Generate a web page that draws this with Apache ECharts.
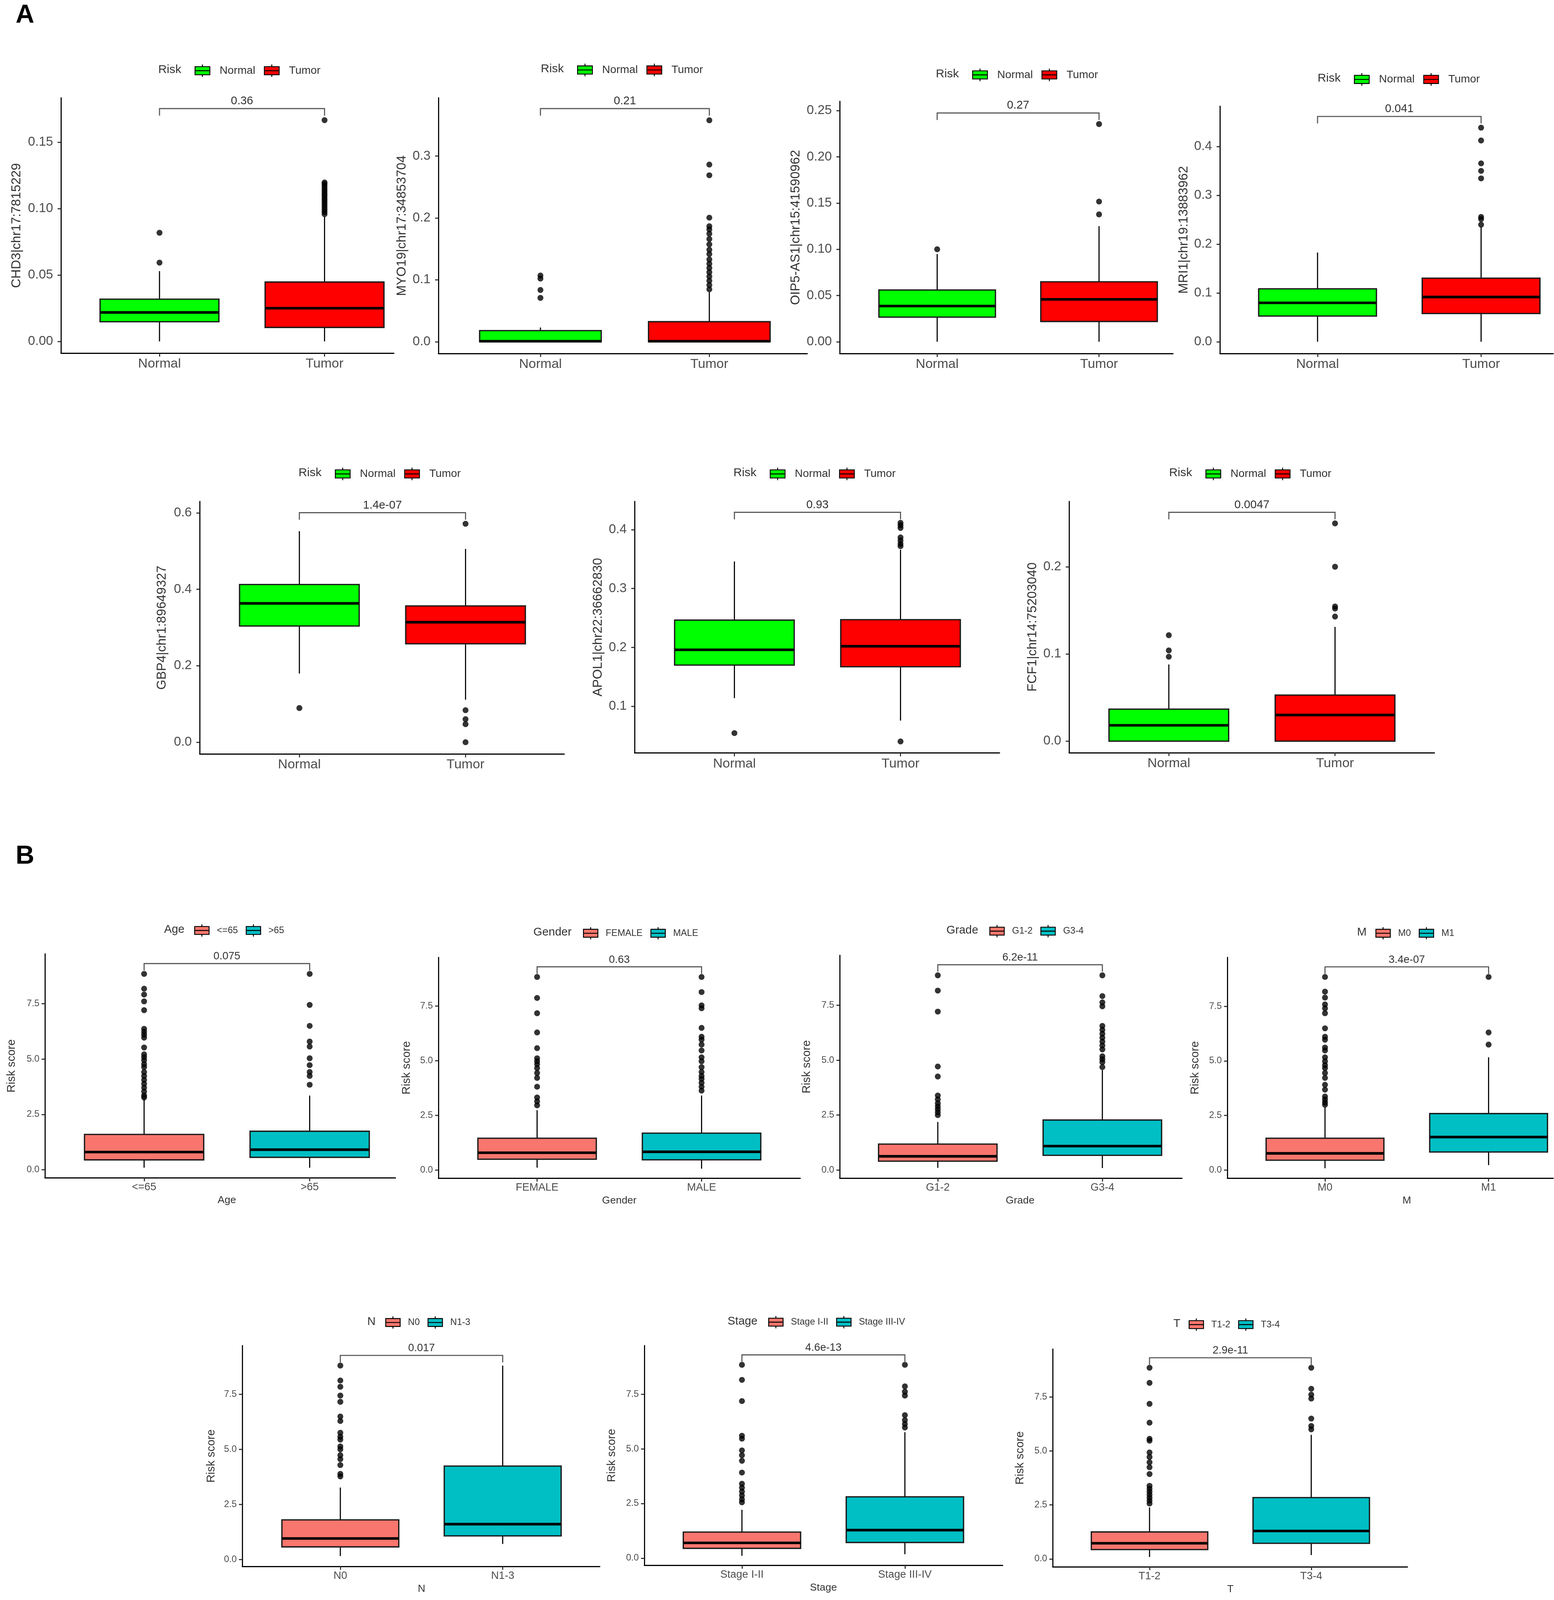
<!DOCTYPE html>
<html><head><meta charset="utf-8">
<script src="https://cdn.jsdelivr.net/npm/echarts@6/dist/echarts.min.js"></script>
<style>html,body{margin:0;padding:0;background:#fff;overflow:hidden}#chart{width:3977px;height:4579px}</style>
</head><body><div id="chart"></div>
<script>
const FONT = '"Liberation Sans", Arial, Helvetica, sans-serif';

// ---------------- Panel A data ----------------
const riskGroups = ['Normal', 'Tumor'];

const chd3Stats = [[0, 0.0148, 0.0218, 0.0318, 0.0529], [0, 0.0105, 0.0250, 0.0447, 0.0940]];
const chd3OutNormal = [0.0593, 0.0818];
const chd3OutTumor = [0.0958, 0.0975, 0.0992, 0.1010, 0.1028, 0.1045, 0.1063, 0.1080, 0.1098, 0.1115, 0.1133, 0.1150, 0.1168, 0.1185, 0.1197, 0.1666];
const chd3Ticks = [0, 0.05, 0.10, 0.15];
const chd3TickLabels = ['0.00', '0.05', '0.10', '0.15'];
const chd3P = '0.36', chd3PY = 0.1753;

const myo19Stats = [[0, 0, 0.0008, 0.018, 0.023], [0, 0, 0.0008, 0.0324, 0.080]];
const myo19OutNormal = [0.0708, 0.0836, 0.1020, 0.1070];
const myo19OutTumor = [0.0846, 0.0915, 0.0985, 0.1054, 0.1123, 0.1192, 0.1261, 0.1330, 0.1417, 0.1486, 0.1573, 0.1659, 0.1745, 0.1814, 0.1866, 0.2004, 0.2689, 0.2862, 0.3578];
const myo19Ticks = [0, 0.1, 0.2, 0.3];
const myo19TickLabels = ['0.0', '0.1', '0.2', '0.3'];
const myo19P = '0.21', myo19PY = 0.3766;

const oip5Stats = [[0, 0.0266, 0.0386, 0.0560, 0.0949], [0, 0.0219, 0.0458, 0.0648, 0.1250]];
const oip5OutNormal = [0.1000];
const oip5OutTumor = [0.1377, 0.1516, 0.2354];
const oip5Ticks = [0, 0.05, 0.10, 0.15, 0.20, 0.25];
const oip5TickLabels = ['0.00', '0.05', '0.10', '0.15', '0.20', '0.25'];
const oip5P = '0.27', oip5PY = 0.2474;

const mri1Stats = [[0, 0.0526, 0.0797, 0.1083, 0.1828], [0, 0.0578, 0.0916, 0.1302, 0.2350]];
const mri1OutNormal = [];
const mri1OutTumor = [0.2399, 0.2513, 0.2557, 0.3346, 0.3500, 0.3654, 0.4123, 0.4386];
const mri1Ticks = [0, 0.1, 0.2, 0.3, 0.4];
const mri1TickLabels = ['0.0', '0.1', '0.2', '0.3', '0.4'];
const mri1P = '0.041', mri1PY = 0.4615;

const gbp4Stats = [[0.1797, 0.304, 0.3633, 0.4125, 0.5523], [0.1112, 0.2575, 0.3139, 0.3567, 0.5057]];
const gbp4OutNormal = [0.0893];
const gbp4OutTumor = [0.0000, 0.0471, 0.0602, 0.0838, 0.5715];
const gbp4Ticks = [0, 0.2, 0.4, 0.6];
const gbp4TickLabels = ['0.0', '0.2', '0.4', '0.6'];
const gbp4P = '1.4e-07', gbp4PY = 0.6005;

const apol1Stats = [[0.1139, 0.170, 0.196, 0.2464, 0.346], [0.0758, 0.1672, 0.202, 0.2472, 0.366]];
const apol1OutNormal = [0.0545];
const apol1OutTumor = [0.0403, 0.3720, 0.3761, 0.3815, 0.3868, 0.4029, 0.4075, 0.4117];
const apol1Ticks = [0.1, 0.2, 0.3, 0.4];
const apol1TickLabels = ['0.1', '0.2', '0.3', '0.4'];
const apol1P = '0.93', apol1PY = 0.4295;

const fcf1Stats = [[0, 0, 0.0182, 0.0367, 0.0879], [0, 0, 0.0300, 0.0528, 0.1310]];
const fcf1OutNormal = [0.0968, 0.1040, 0.1215];
const fcf1OutTumor = [0.1429, 0.1520, 0.1544, 0.2000, 0.2497];
const fcf1Ticks = [0, 0.1, 0.2];
const fcf1TickLabels = ['0.0', '0.1', '0.2'];
const fcf1P = '0.0047', fcf1PY = 0.2624;

// ---------------- Panel B data ----------------
const riskTicks = [0, 2.5, 5, 7.5];
const riskTickLabels = ['0.0', '2.5', '5.0', '7.5'];

const ageGroups = ['<=65', '>65'];
const ageStats = [[0.09, 0.444, 0.798, 1.595, 3.20], [0.09, 0.559, 0.905, 1.737, 3.35]];
const ageOutLow = [3.262, 3.35, 3.528, 3.706, 3.883, 4.06, 4.238, 4.415, 4.636, 4.769, 4.947, 5.08, 5.212, 5.522, 5.966, 6.099, 6.231, 6.364, 7.207, 7.605, 7.915, 8.18, 8.847];
const ageOutHigh = [3.838, 4.238, 4.415, 4.724, 5.035, 5.566, 5.789, 6.498, 7.446, 8.847];
const ageP = '0.075', agePY = 9.314;

const genderGroups = ['FEMALE', 'MALE'];
const genderStats = [[0.109, 0.493, 0.789, 1.451, 2.733], [0.06, 0.466, 0.833, 1.684, 3.404]];
const genderOutF = [2.957, 3.136, 3.315, 3.808, 4.212, 4.435, 4.659, 4.838, 4.972, 5.108, 5.572, 6.29, 7.168, 7.867, 8.826];
const genderOutM = [3.629, 3.808, 3.987, 4.166, 4.301, 4.48, 4.704, 4.972, 5.152, 5.465, 5.734, 5.959, 6.093, 6.497, 7.393, 7.527, 8.135, 8.826];
const genderP = '0.63', genderPY = 9.291;

const gradeGroups = ['G1-2', 'G3-4'];
const gradeStats = [[0.1, 0.403, 0.625, 1.179, 2.188], [0.09, 0.67, 1.09, 2.277, 4.554]];
const gradeOutLow = [2.5, 2.633, 2.768, 2.902, 3.036, 3.214, 3.392, 4.259, 4.714, 7.214, 8.17, 8.866];
const gradeOutHigh = [4.687, 4.91, 5.045, 5.179, 5.491, 5.669, 5.849, 6.027, 6.205, 6.384, 6.563, 7.456, 7.634, 7.92, 8.866];
const gradeP = '6.2e-11', gradePY = 9.348;

const mGroups = ['M0', 'M1'];
const mStats = [[0.08, 0.45, 0.763, 1.455, 2.88], [0.224, 0.826, 1.509, 2.586, 5.165]];
const mOut0 = [2.99, 3.099, 3.233, 3.367, 3.683, 3.907, 4.222, 4.446, 4.67, 4.805, 4.984, 5.165, 5.479, 5.613, 5.973, 6.108, 6.493, 7.185, 7.41, 7.59, 7.903, 8.174, 8.848];
const mOut1 = [5.748, 6.304, 8.848];
const mP = '3.4e-07', mPY = 9.313;

const nGroups = ['N0', 'N1-3'];
const nStats = [[0.152, 0.569, 0.951, 1.796, 3.262], [0.702, 1.067, 1.6, 4.239, 8.798]];
const nOut0 = [3.768, 3.884, 4.283, 4.55, 4.729, 4.995, 5.128, 5.439, 5.572, 5.75, 6.283, 6.487, 7.154, 7.438, 7.838, 8.123, 8.798];
const nOut1 = [];
const nP = '0.017', nPY = 9.26;

const stageGroups = ['Stage I-II', 'Stage III-IV'];
const stageStats = [[0.107, 0.448, 0.699, 1.191, 2.213], [0.179, 0.716, 1.281, 2.804, 5.762]];
const stageOutLow = [2.553, 2.688, 2.866, 3.046, 3.226, 3.405, 3.915, 4.454, 4.705, 4.929, 5.466, 5.6, 7.186, 8.155, 8.844];
const stageOutHigh = [5.976, 6.138, 6.318, 6.542, 7.437, 7.616, 7.859, 8.844];
const stageP = '4.6e-13', stagePY = 9.30;

const tGroups = ['T1-2', 'T3-4'];
const tStats = [[0.091, 0.436, 0.726, 1.252, 2.388], [0.181, 0.726, 1.298, 2.841, 5.748]];
const tOutLow = [2.569, 2.705, 2.841, 2.978, 3.115, 3.251, 3.387, 3.932, 4.249, 4.476, 4.722, 4.931, 5.475, 5.566, 6.311, 7.183, 8.155, 8.853];
const tOutHigh = [6.002, 6.156, 6.501, 7.428, 7.609, 7.881, 8.853];
const tP = '2.9e-11', tPY = 9.316;

// ---------------- Panel table built from the arrays ----------------
const panels = [
  {sec:'A', yName:'CHD3|chr17:7815229', legendTitle:'Risk', groups:riskGroups, stats:chd3Stats, out:[chd3OutNormal, chd3OutTumor], ticks:chd3Ticks, tickLabels:chd3TickLabels, p:chd3P, pY:chd3PY},
  {sec:'A', yName:'MYO19|chr17:34853704', legendTitle:'Risk', groups:riskGroups, stats:myo19Stats, out:[myo19OutNormal, myo19OutTumor], ticks:myo19Ticks, tickLabels:myo19TickLabels, p:myo19P, pY:myo19PY},
  {sec:'A', yName:'OIP5-AS1|chr15:41590962', legendTitle:'Risk', groups:riskGroups, stats:oip5Stats, out:[oip5OutNormal, oip5OutTumor], ticks:oip5Ticks, tickLabels:oip5TickLabels, p:oip5P, pY:oip5PY},
  {sec:'A', yName:'MRI1|chr19:13883962', legendTitle:'Risk', groups:riskGroups, stats:mri1Stats, out:[mri1OutNormal, mri1OutTumor], ticks:mri1Ticks, tickLabels:mri1TickLabels, p:mri1P, pY:mri1PY},
  {sec:'A', yName:'GBP4|chr1:89649327', legendTitle:'Risk', groups:riskGroups, stats:gbp4Stats, out:[gbp4OutNormal, gbp4OutTumor], ticks:gbp4Ticks, tickLabels:gbp4TickLabels, p:gbp4P, pY:gbp4PY},
  {sec:'A', yName:'APOL1|chr22:36662830', legendTitle:'Risk', groups:riskGroups, stats:apol1Stats, out:[apol1OutNormal, apol1OutTumor], ticks:apol1Ticks, tickLabels:apol1TickLabels, p:apol1P, pY:apol1PY},
  {sec:'A', yName:'FCF1|chr14:75203040', legendTitle:'Risk', groups:riskGroups, stats:fcf1Stats, out:[fcf1OutNormal, fcf1OutTumor], ticks:fcf1Ticks, tickLabels:fcf1TickLabels, p:fcf1P, pY:fcf1PY},
  {sec:'B', yName:'Risk score', legendTitle:'Age', groups:ageGroups, stats:ageStats, out:[ageOutLow, ageOutHigh], ticks:riskTicks, tickLabels:riskTickLabels, p:ageP, pY:agePY},
  {sec:'B', yName:'Risk score', legendTitle:'Gender', groups:genderGroups, stats:genderStats, out:[genderOutF, genderOutM], ticks:riskTicks, tickLabels:riskTickLabels, p:genderP, pY:genderPY},
  {sec:'B', yName:'Risk score', legendTitle:'Grade', groups:gradeGroups, stats:gradeStats, out:[gradeOutLow, gradeOutHigh], ticks:riskTicks, tickLabels:riskTickLabels, p:gradeP, pY:gradePY},
  {sec:'B', yName:'Risk score', legendTitle:'M', groups:mGroups, stats:mStats, out:[mOut0, mOut1], ticks:riskTicks, tickLabels:riskTickLabels, p:mP, pY:mPY},
  {sec:'B', yName:'Risk score', legendTitle:'N', groups:nGroups, stats:nStats, out:[nOut0, nOut1], ticks:riskTicks, tickLabels:riskTickLabels, p:nP, pY:nPY},
  {sec:'B', yName:'Risk score', legendTitle:'Stage', groups:stageGroups, stats:stageStats, out:[stageOutLow, stageOutHigh], ticks:riskTicks, tickLabels:riskTickLabels, p:stageP, pY:stagePY},
  {sec:'B', yName:'Risk score', legendTitle:'T', groups:tGroups, stats:tStats, out:[tOutLow, tOutHigh], ticks:riskTicks, tickLabels:riskTickLabels, p:tP, pY:tPY}
];

// ---------------- Layout (reference pixels) and scale ranges ----------------
const layouts = [
  {left:156, top:280, width:852, height:731, xMin:0.403, xMax:2.42, yMin:-0.00895, yMax:0.1834, nameGap:97, titleLeft:405, keyLeft:498, legendY:201},
  {left:1122, top:280, width:944, height:732, xMin:0.396, xMax:2.58, yMin:-0.0192, yMax:0.394, nameGap:77, titleLeft:1384, keyLeft:1477, legendY:199},
  {left:2149, top:290, width:853, height:722, xMin:0.398, xMax:2.457, yMin:-0.01285, yMax:0.260, nameGap:96, titleLeft:2395, keyLeft:2488, legendY:213},
  {left:3122, top:304, width:853, height:708, xMin:0.403, xMax:2.441, yMin:-0.0244, yMax:0.4825, nameGap:76, titleLeft:3372, keyLeft:3465, legendY:226},
  {left:511, top:1435, width:933, height:723, xMin:0.400, xMax:2.594, yMin:-0.031, yMax:0.630, nameGap:80, titleLeft:764, keyLeft:857, legendY:1355},
  {left:1624, top:1435, width:934, height:720, xMin:0.399, xMax:2.596, yMin:0.0207, yMax:0.448, nameGap:77, titleLeft:1877, keyLeft:1970, legendY:1355},
  {left:2736, top:1435, width:935, height:719, xMin:0.400, xMax:2.598, yMin:-0.0132, yMax:0.2749, nameGap:77, titleLeft:2992, keyLeft:3085, legendY:1355},
  {left:115, top:2730, width:897, height:641, xMin:0.401, xMax:2.518, yMin:-0.371, yMax:9.75, nameGap:71, titleLeft:420, keyLeft:497, legendY:2662},
  {left:1122, top:2740, width:926, height:632, xMin:0.400, xMax:2.600, yMin:-0.377, yMax:9.72, nameGap:67, titleLeft:1365, keyLeft:1492, legendY:2670},
  {left:2149, top:2734, width:876, height:638, xMin:0.404, xMax:2.484, yMin:-0.375, yMax:9.777, nameGap:70, titleLeft:2422, keyLeft:2532, legendY:2664},
  {left:3141, top:2740, width:834, height:632, xMin:0.403, xMax:2.395, yMin:-0.378, yMax:9.744, nameGap:68, titleLeft:3473, keyLeft:3520, legendY:2670},
  {left:620, top:3851, width:915, height:632, xMin:0.396, xMax:2.598, yMin:-0.32, yMax:9.705, nameGap:65, titleLeft:940, keyLeft:986, legendY:3784},
  {left:1649, top:3851, width:917, height:629, xMin:0.401, xMax:2.600, yMin:-0.333, yMax:9.723, nameGap:69, titleLeft:1862, keyLeft:1966, legendY:3783},
  {left:2694, top:3861, width:908, height:623, xMin:0.401, xMax:2.595, yMin:-0.363, yMax:9.717, nameGap:69, titleLeft:3003, keyLeft:3042, legendY:3790}
];

const STYLE = {
  A: {colors:['#00FF00', '#FF0000'], yTick:35, xTick:36, xName:32, yName:35, legTitle:32, legText:30, pFont:31, keyW:40, keyH:34, textPad:20, itemGap:22, yLabelMargin:20},
  B: {colors:['#F8766D', '#00BFC4'], yTick:25, xTick:29, xName:28, yName:31, legTitle:31, legText:25, pFont:29, keyW:39, keyH:34, textPad:15, itemGap:20, yLabelMargin:14}
};

// Fit the reference-sized figure into whatever viewport the page actually gets.
const REF_W = 3977, REF_H = 4579;
const VW = window.innerWidth || REF_W;
const VH = window.innerHeight || REF_H;
const SX = VW / REF_W, SY = VH / REF_H, SF = Math.sqrt(SX * SY);
const chartEl = document.getElementById('chart');
chartEl.style.width = VW + 'px';
chartEl.style.height = VH + 'px';

const BOX_WIDTH = 0.72;
const TIP_PX = 20 * SY;
const KEY_ICON = 'path://M20 0 V6 M0 6 H40 V28 H0 Z M0 17 H40 M20 28 V34';

function renderBox(params, api) {
  const x = api.value(0);
  const pMin = api.coord([x, api.value(1)]);
  const pQ1 = api.coord([x, api.value(2)]);
  const pMed = api.coord([x, api.value(3)]);
  const pQ3 = api.coord([x, api.value(4)]);
  const pMax = api.coord([x, api.value(5)]);
  const half = api.size([BOX_WIDTH, 0])[0] / 2;
  const color = api.visual('color');
  const cx = pQ1[0];
  return {
    type: 'group',
    children: [
      {type:'line', shape:{x1:cx, y1:pMin[1], x2:cx, y2:pQ1[1]}, style:{stroke:'#000', lineWidth:3 * SF}},
      {type:'line', shape:{x1:cx, y1:pQ3[1], x2:cx, y2:pMax[1]}, style:{stroke:'#000', lineWidth:3 * SF}},
      {type:'rect', shape:{x:cx - half, y:pQ3[1], width:2 * half, height:Math.max(pQ1[1] - pQ3[1], 0.5)}, style:{fill:color, stroke:'#1a1a1a', lineWidth:3.5 * SF}},
      {type:'line', shape:{x1:cx - half, y1:pMed[1], x2:cx + half, y2:pMed[1]}, style:{stroke:'#000', lineWidth:7 * SF}}
    ]
  };
}

function makeBracket(text, fontSize) {
  return function (params, api) {
    const y = api.value(2);
    const a = api.coord([api.value(0), y]);
    const b = api.coord([api.value(1), y]);
    return {
      type: 'group',
      children: [
        {type:'polyline', shape:{points:[[a[0], a[1] + TIP_PX], [a[0], a[1]], [b[0], b[1]], [b[0], b[1] + TIP_PX]]}, style:{stroke:'#5a5a5a', lineWidth:3 * SF, fill:null}},
        {type:'text', x:(a[0] + b[0]) / 2, y:a[1] - 5 * SY, style:{text:text, fontSize:fontSize, fontFamily:FONT, fill:'#333', align:'center', verticalAlign:'bottom'}}
      ]
    };
  };
}

function tickLabel(p, v) {
  for (let i = 0; i < p.ticks.length; i++) {
    if (Math.abs(p.ticks[i] - v) < 1e-9) return p.tickLabels[i];
  }
  return '';
}

const option = {
  animation: false,
  backgroundColor: '#ffffff',
  title: [
    {text:'A', left:40 * SX, top:8 * SY, padding:0, textStyle:{fontSize:70 * SF, fontWeight:'bold', color:'#000', fontFamily:FONT}},
    {text:'B', left:40 * SX, top:2414 * SY, padding:0, textStyle:{fontSize:70 * SF, fontWeight:'bold', color:'#000', fontFamily:FONT}}
  ],
  legend: [], grid: [], xAxis: [], yAxis: [], series: []
};

panels.forEach(function (p, i) {
  const L = layouts[i];
  const S = STYLE[p.sec];
  const gw = L.width * SX;
  option.grid.push({left:L.left * SX, top:L.top * SY, width:gw, height:L.height * SY, containLabel:false, outerBoundsMode:'none'});
  const pxPerUnit = gw / (L.xMax - L.xMin);
  const shift = (1.5 - (L.xMin + L.xMax) / 2) * pxPerUnit;
  option.xAxis.push({
    type:'value', gridIndex:i, min:L.xMin, max:L.xMax,
    splitLine:{show:false},
    axisLine:{show:true, onZero:false, lineStyle:{color:'#000', width:3 * SF}},
    axisTick:{show:true, customValues:[1, 2], length:9 * SF, lineStyle:{color:'#333', width:3 * SF}},
    axisLabel:{show:true, customValues:[1, 2], formatter:function (v) { return p.groups[Math.round(v) - 1]; }, fontSize:S.xTick * SF, color:'#4D4D4D', fontFamily:FONT, margin:12 * SY},
    name: p.sec === 'B' ? p.legendTitle : '',
    nameLocation:'middle', nameGap:50 * SY,
    nameTextStyle:{fontSize:S.xName * SF, color:'#333', fontFamily:FONT, padding: shift >= 0 ? [0, 0, 0, 2 * shift] : [0, -2 * shift, 0, 0]}
  });
  option.yAxis.push({
    type:'value', gridIndex:i, min:L.yMin, max:L.yMax,
    splitLine:{show:false},
    axisLine:{show:true, onZero:false, lineStyle:{color:'#000', width:3 * SF}},
    axisTick:{show:true, customValues:p.ticks, length:9 * SF, lineStyle:{color:'#333', width:3 * SF}},
    axisLabel:{show:true, customValues:p.ticks, formatter:function (v) { return tickLabel(p, v); }, fontSize:S.yTick * SF, color:'#4D4D4D', fontFamily:FONT, margin:S.yLabelMargin * SX},
    name:p.yName, nameLocation:'middle', nameGap:L.nameGap * SX,
    nameTextStyle:{fontSize:S.yName * SF, color:'#333', fontFamily:FONT}
  });
  p.groups.forEach(function (g, k) {
    option.series.push({
      type:'custom', name:g, xAxisIndex:i, yAxisIndex:i, silent:true, z:2,
      renderItem:renderBox,
      itemStyle:{color:S.colors[k], borderColor:'#000', borderWidth:3 * SF},
      encode:{x:0, y:[1, 2, 3, 4, 5]},
      data:[[k + 1].concat(p.stats[k])]
    });
  });
  const outPts = [];
  p.out.forEach(function (arr, k) { arr.forEach(function (v) { outPts.push([k + 1, v]); }); });
  option.series.push({
    type:'scatter', name:'outliers ' + i, xAxisIndex:i, yAxisIndex:i, silent:true, z:3,
    symbol:'circle', symbolSize:16 * SF, itemStyle:{color:'#000'}, data:outPts
  });
  option.series.push({
    type:'custom', name:'p value ' + i, xAxisIndex:i, yAxisIndex:i, silent:true, z:4,
    renderItem:makeBracket(p.p, S.pFont * SF),
    encode:{x:[0, 1], y:2},
    data:[[1, 2, p.pY]]
  });
  option.title.push({
    text:p.legendTitle, left:L.titleLeft * SX, top:L.legendY * SY - S.legTitle * SF / 2 - 1, padding:0,
    textStyle:{fontSize:S.legTitle * SF, fontWeight:'normal', color:'#333', fontFamily:FONT}
  });
  option.legend.push({
    data:p.groups.slice(), left:L.keyLeft * SX, top:L.legendY * SY - S.keyH * SF / 2, padding:0, orient:'horizontal',
    selectedMode:false, icon:KEY_ICON, itemWidth:S.keyW * SF, itemHeight:S.keyH * SF, itemGap:S.itemGap * SX,
    itemStyle:{borderColor:'#000', borderWidth:2.5 * SF},
    textStyle:{fontSize:S.legText * SF, color:'#333', fontFamily:FONT, padding:[0, 0, 0, S.textPad * SX]}
  });
});

const chart = echarts.init(chartEl, null, {renderer:'canvas'});
chart.setOption(option);
</script></body></html>
